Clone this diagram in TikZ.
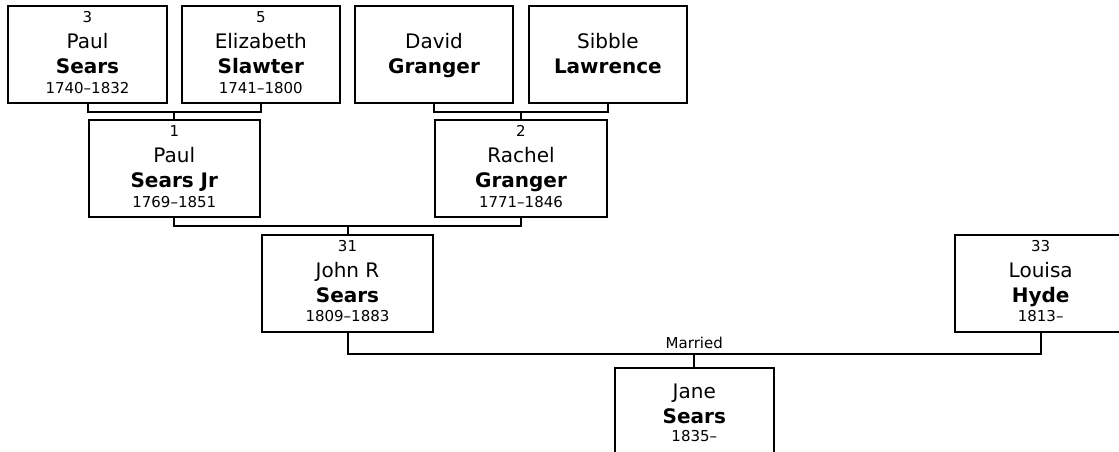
\documentclass[tikz,border=0pt]{standalone}
\usepackage{fontspec}
\setmainfont{DejaVu Sans}
\usetikzlibrary{calc}
\newcommand\bigf{\fontsize{20}{24}\selectfont}
\newcommand\smallf{\fontsize{15}{18}\selectfont}
\newcommand\ctrline[1]{\hbox to 0pt{\hss\smash{#1}\hss}}
\newcommand\fourlines[4]{\vbox to 97pt{\offinterlineskip
  \kern16.5pt\ctrline{\smallf #1}%
  \kern26pt\ctrline{\bigf #2}%
  \kern25pt\ctrline{\bigf\bfseries #3}%
  \kern19.4pt\ctrline{\smallf #4}\vss}}
\newcommand\threelines[3]{\vbox to 97pt{\offinterlineskip
  \kern30pt\ctrline{\bigf #1}%
  \kern25pt\ctrline{\bigf\bfseries #2}%
  \kern18.5pt\ctrline{\smallf #3}\vss}}
\tikzset{
  person/.style={draw=black, line width=2pt, inner sep=0pt, outer sep=0pt,
    minimum height=97pt, minimum width=171.5pt},
  narrowperson/.style={person, minimum width=158.5pt},
  conn/.style={draw=black, line width=2pt}
}
\begin{document}
\begin{tikzpicture}[x=1pt,y=-1pt]
\fill[white] (0,0) rectangle (1119,452);
\useasboundingbox (0,0) rectangle (1119,452);
\clip (0,0) rectangle (1119,452);
% row 1
\node[narrowperson] (p3) at (87.5,54.85) {\fourlines{3}{Paul}{Sears}{1740–1832}};
\node[narrowperson] (p5) at (260.8,54.85) {\fourlines{5}{Elizabeth}{Slawter}{1741–1800}};
\node[narrowperson] (pd) at (434,54.85) {\fourlines{}{David}{Granger}{}};
\node[narrowperson] (ps) at (607.9,54.85) {\fourlines{}{Sibble}{Lawrence}{}};
% row 2
\node[person] (p1) at (174.3,168.8) {\fourlines{1}{Paul}{Sears Jr}{1769–1851}};
\node[person] (p2) at (521,168.8) {\fourlines{2}{Rachel}{Granger}{1771–1846}};
% row 3
\node[person] (p31) at (347.5,283.5) {\fourlines{31}{John R}{Sears}{1809–1883}};
\node[person] (p33) at (1040.7,283.5) {\fourlines{33}{Louisa}{Hyde}{1813–}};
% row 4
\node[narrowperson] (pj) at (694.3,416.8) {\threelines{Jane}{Sears}{1835–}};
% connectors
\path (p1.north) ++(0,-8.5) coordinate (b1);
\draw[conn] (p3.south) |- (b1) -| (p5.south);
\draw[conn] (b1) -- (p1.north);
\path (p2.north) ++(0,-8.5) coordinate (b2);
\draw[conn] (pd.south) |- (b2) -| (ps.south);
\draw[conn] (b2) -- (p2.north);
\path (p31.north) ++(0,-9.3) coordinate (b3);
\draw[conn] (p1.south) |- (b3) -| (p2.south);
\draw[conn] (b3) -- (p31.north);
\path (pj.north) ++(0,-14.6) coordinate (b4);
\draw[conn] (p31.south) |- (b4) -| (p33.south);
\draw[conn] (b4) -- (pj.north);
\node[font=\smallf, anchor=base, inner sep=0pt] (married) at ($(b4)+(0,-5.4)$) {Married};
\end{tikzpicture}
\end{document}
